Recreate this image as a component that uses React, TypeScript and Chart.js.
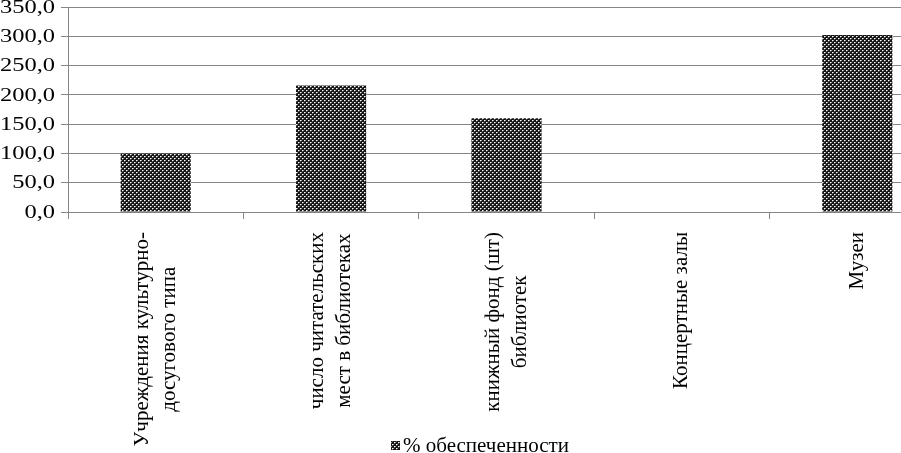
import React, { useEffect, useRef } from "react";
import { Chart, registerables } from "chart.js";

Chart.register(...registerables);

const categories: string[][] = [
  ["Учреждения культурно-", "досугового типа"],
  ["число читательских", "мест в библиотеках"],
  ["книжный фонд (шт)", "библиотек"],
  ["Концертные залы"],
  ["Музеи"],
];
const coverage: number[] = [100, 216, 160, 0, 302];
const seriesName = "% обеспеченности";
const yTicks: number[] = [0, 50, 100, 150, 200, 250, 300, 350];

const FONT = "'Liberation Serif', 'Times New Roman', serif";
const AXIS_GREY = "#868686";

function makePattern(): CanvasPattern | string {
  const c = document.createElement("canvas");
  c.width = 4;
  c.height = 4;
  const g = c.getContext("2d");
  if (!g) return "#333";
  g.fillStyle = "#161616";
  g.fillRect(0, 0, 4, 4);
  const px = (x: number, y: number, col: string) => {
    g.fillStyle = col;
    g.fillRect(x, y, 1, 1);
  };
  px(0, 0, "#ffffff");
  px(2, 2, "#ffffff");
  px(1, 0, "#9a9a9a");
  px(3, 2, "#9a9a9a");
  px(0, 1, "#5a5a5a");
  px(2, 3, "#5a5a5a");
  return g.createPattern(c, "repeat") || "#333";
}

export default function App() {
  const ref = useRef<HTMLCanvasElement | null>(null);

  useEffect(() => {
    if (!ref.current) return;
    const pattern = makePattern();

    const textPlugin = {
      id: "customText",
      afterDraw(chart: any) {
        const ctx: CanvasRenderingContext2D = chart.ctx;
        const xs = chart.scales.x;
        const ys = chart.scales.y;
        ctx.save();
        ctx.fillStyle = "#000";

        // y tick labels
        ctx.font = `18px ${FONT}`;
        ys.ticks.forEach((t: any) => {
          const y = ys.getPixelForValue(t.value);
          const label = Number(t.value).toFixed(1).replace(".", ",");
          ctx.save();
          ctx.translate(55, y + 1);
          ctx.scale(1.36, 1);
          ctx.textAlign = "right";
          ctx.textBaseline = "middle";
          ctx.fillText(label, 0, 0);
          ctx.restore();
        });

        // x category labels (rotated, lines centred within block)
        ctx.font = `21px ${FONT}`;
        const top = xs.top + 20;
        const lh = 27;
        categories.forEach((lines, i) => {
          const x = xs.getPixelForValue(i);
          const W = Math.max(...lines.map((l) => ctx.measureText(l).width));
          const n = lines.length;
          lines.forEach((line, j) => {
            const lx = x + (j - (n - 1) / 2) * lh;
            ctx.save();
            ctx.translate(lx, top + W / 2);
            ctx.rotate(-Math.PI / 2);
            ctx.textAlign = "center";
            ctx.textBaseline = "middle";
            ctx.fillText(line, 0, 0);
            ctx.restore();
          });
        });

        // legend
        ctx.font = `21px ${FONT}`;
        const tw = ctx.measureText(seriesName).width;
        const box = 9;
        const gap = 3;
        const total = box + gap + tw;
        const sx = chart.width / 2 - total / 2;
        const cy = 446;
        ctx.fillStyle = pattern as any;
        ctx.fillRect(sx, cy - 5, box, box);
        ctx.fillStyle = "#000";
        ctx.textAlign = "left";
        ctx.textBaseline = "middle";
        ctx.fillText(seriesName, sx + box + gap, cy);
        ctx.restore();
      },
    };

    const chart = new Chart(ref.current, {
      type: "bar",
      data: {
        labels: categories.map((c) => c.join(" ")),
        datasets: [
          {
            label: seriesName,
            data: coverage,
            backgroundColor: pattern as any,
            borderWidth: 0,
            barPercentage: 0.4,
            categoryPercentage: 1,
          },
        ],
      },
      options: {
        responsive: true,
        maintainAspectRatio: false,
        animation: false,
        layout: { padding: { top: 7, right: 15, left: 0, bottom: 0 } },
        plugins: {
          legend: { display: false },
          tooltip: { enabled: false },
        },
        scales: {
          x: {
            grid: {
              display: true,
              drawOnChartArea: false,
              drawTicks: true,
              tickLength: 7,
              offset: true,
              color: AXIS_GREY,
            },
            border: { color: AXIS_GREY },
            ticks: { display: false },
            afterFit: (scale: any) => {
              scale.height = 470 - 212;
            },
          },
          y: {
            min: 0,
            max: 350,
            afterBuildTicks: (scale: any) => {
              scale.ticks = yTicks.map((v) => ({ value: v }));
            },
            grid: {
              color: AXIS_GREY,
              tickLength: 7,
              drawTicks: true,
            },
            border: { color: AXIS_GREY },
            ticks: { display: false },
            afterFit: (scale: any) => {
              scale.width = 68;
            },
          },
        },
      },
      plugins: [textPlugin],
    });
    return () => chart.destroy();
  }, []);

  return (
    <div
      style={{
        position: "fixed",
        left: 0,
        top: 0,
        width: 901,
        height: 453,
        overflow: "hidden",
        background: "#fff",
      }}
    >
      <div style={{ position: "absolute", left: 0, top: 0, width: 960, height: 470 }}>
        <canvas ref={ref} />
      </div>
    </div>
  );
}
